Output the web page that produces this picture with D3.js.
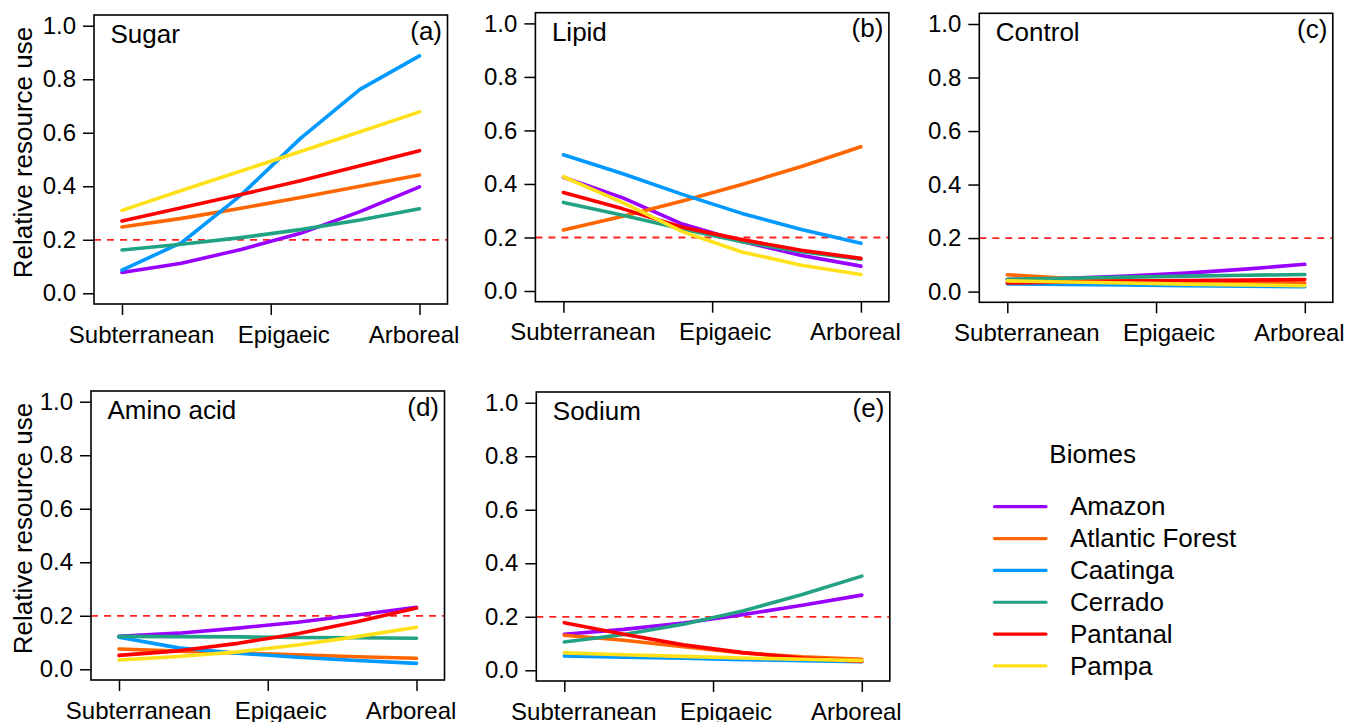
<!DOCTYPE html>
<html><head><meta charset="utf-8">
<script src="https://cdn.jsdelivr.net/npm/d3@7"></script>
<style>body{margin:0;background:#fff}svg{display:block;font-family:"Liberation Sans",Arial,sans-serif}</style>
</head><body><svg id="c" width="1359" height="722"></svg>
<script>
// ---- data ----
const categories = ["Subterranean", "Epigaeic", "Arboreal"];
const categoryPositions = [1, 2, 3];
const xPositions = [1, 1.4, 1.8, 2.2, 2.6, 3];
const yTicks = [0, 0.2, 0.4, 0.6, 0.8, 1.0];
const threshold = 0.2;
const biomes = ["Amazon", "Atlantic Forest", "Caatinga", "Cerrado", "Pantanal", "Pampa"];
const biomeColors = ["#9900FF", "#FF6600", "#0099FF", "#21A383", "#FF0000", "#FFE11A"];

// values per biome (same order as biomes) at xPositions
const sugar = [
  [0.078, 0.112, 0.164, 0.224, 0.305, 0.398],
  [0.248, 0.280, 0.318, 0.358, 0.400, 0.442],
  [0.087, 0.189, 0.367, 0.579, 0.762, 0.887],
  [0.162, 0.183, 0.208, 0.238, 0.274, 0.316],
  [0.270, 0.320, 0.369, 0.421, 0.477, 0.533],
  [0.310, 0.384, 0.457, 0.530, 0.604, 0.678]
];
const lipid = [
  [0.425, 0.348, 0.250, 0.185, 0.133, 0.093],
  [0.228, 0.279, 0.336, 0.398, 0.465, 0.539],
  [0.509, 0.438, 0.361, 0.290, 0.230, 0.178],
  [0.331, 0.283, 0.232, 0.184, 0.147, 0.119],
  [0.368, 0.307, 0.238, 0.192, 0.152, 0.122],
  [0.427, 0.330, 0.222, 0.146, 0.096, 0.062]
];
const control = [
  [0.045, 0.050, 0.058, 0.069, 0.084, 0.102],
  [0.063, 0.050, 0.043, 0.038, 0.035, 0.032],
  [0.029, 0.027, 0.025, 0.022, 0.020, 0.018],
  [0.046, 0.050, 0.054, 0.058, 0.061, 0.064],
  [0.032, 0.036, 0.039, 0.041, 0.043, 0.045],
  [0.040, 0.036, 0.032, 0.028, 0.025, 0.022]
];
const aminoAcid = [
  [0.123, 0.135, 0.154, 0.176, 0.203, 0.232],
  [0.076, 0.068, 0.061, 0.054, 0.047, 0.041],
  [0.120, 0.080, 0.060, 0.045, 0.033, 0.022],
  [0.123, 0.122, 0.121, 0.119, 0.118, 0.116],
  [0.052, 0.069, 0.097, 0.133, 0.178, 0.229],
  [0.035, 0.048, 0.065, 0.091, 0.122, 0.157]
];
const sodium = [
  [0.135, 0.153, 0.177, 0.208, 0.243, 0.281],
  [0.131, 0.112, 0.088, 0.065, 0.050, 0.041],
  [0.054, 0.049, 0.045, 0.040, 0.036, 0.032],
  [0.106, 0.134, 0.172, 0.222, 0.283, 0.352],
  [0.178, 0.135, 0.095, 0.066, 0.046, 0.033],
  [0.065, 0.058, 0.052, 0.046, 0.041, 0.036]
];

// ---- layout ----
const W = 353.5, H = 289;
const panels = [
  {title: "Sugar", letter: "(a)", values: sugar, L: 94, T: 15, ylab: true},
  {title: "Lipid", letter: "(b)", values: lipid, L: 535.4, T: 12.7, ylab: false},
  {title: "Control", letter: "(c)", values: control, L: 979.3, T: 13.3, ylab: false},
  {title: "Amino acid", letter: "(d)", values: aminoAcid, L: 91, T: 391, ylab: true},
  {title: "Sodium", letter: "(e)", values: sodium, L: 536.3, T: 392, ylab: false}
];
const labelShift = [19, 12.5, -6];

const svg = d3.select("#c");
const font = '"Liberation Sans", Arial, sans-serif';

panels.forEach(p => {
  const x = d3.scaleLinear().domain([1, 3]).range([p.L + 28, p.L + W - 28]);
  const y = d3.scaleLinear().domain([-0.04, 1.04]).range([p.T + H, p.T]);
  const g = svg.append("g");

  // threshold line
  g.append("line")
    .attr("x1", p.L).attr("x2", p.L + W)
    .attr("y1", y(threshold)).attr("y2", y(threshold))
    .attr("stroke", "#FF2222").attr("stroke-width", 1.8)
    .attr("stroke-dasharray", "7,6");

  // series
  const line = d3.line().x((d, i) => x(xPositions[i])).y(d => y(d));
  p.values.forEach((vals, bi) => {
    g.append("path").datum(vals)
      .attr("d", line)
      .attr("fill", "none")
      .attr("stroke", biomeColors[bi])
      .attr("stroke-width", 3.6)
      .attr("stroke-linecap", "round")
      .attr("stroke-linejoin", "round");
  });

  // box
  g.append("rect").attr("x", p.L).attr("y", p.T).attr("width", W).attr("height", H)
    .attr("fill", "none").attr("stroke", "#000").attr("stroke-width", 1.6);

  // y axis
  const ya = g.append("g").attr("transform", `translate(${p.L},0)`)
    .call(d3.axisLeft(y).tickValues(yTicks).tickFormat(d3.format(".1f")).tickSize(11).tickPadding(7));
  ya.select(".domain").remove();
  ya.selectAll("line").attr("stroke", "#000").attr("stroke-width", 1.5);
  ya.selectAll("text").attr("font-size", 24).attr("font-family", font).attr("fill", "#000");

  // x axis
  const xa = g.append("g").attr("transform", `translate(0,${p.T + H})`)
    .call(d3.axisBottom(x).tickValues(categoryPositions).tickFormat((d, i) => categories[i]).tickSize(11).tickPadding(10.5));
  xa.select(".domain").remove();
  xa.selectAll("line").attr("stroke", "#000").attr("stroke-width", 1.5);
  xa.selectAll("text").attr("font-size", 24).attr("font-family", font).attr("fill", "#000")
    .attr("dx", (d, i) => labelShift[i]);

  // titles
  g.append("text").attr("x", p.L + 16.5).attr("y", p.T + 28)
    .attr("font-size", 26).attr("font-family", font).text(p.title);
  g.append("text").attr("x", p.L + W - 5.5).attr("y", p.T + 24.5)
    .attr("text-anchor", "end").attr("font-size", 26).attr("font-family", font).text(p.letter);

  if (p.ylab) {
    g.append("text")
      .attr("transform", `translate(32,${p.T + H / 2 - 7}) rotate(-90)`)
      .attr("text-anchor", "middle").attr("font-size", 26).attr("font-family", font)
      .text("Relative resource use");
  }
});

// legend
const lg = svg.append("g");
lg.append("text").attr("x", 1049.3).attr("y", 463.3).attr("font-size", 26).attr("font-family", font).text("Biomes");
biomes.forEach((b, i) => {
  const yy = 506.7 + i * 31.85;
  lg.append("line").attr("x1", 994.5).attr("x2", 1046).attr("y1", yy).attr("y2", yy)
    .attr("stroke", biomeColors[i]).attr("stroke-width", 3.2).attr("stroke-linecap", "round");
  lg.append("text").attr("x", 1070).attr("y", yy + 8.6).attr("font-size", 26).attr("font-family", font).text(b);
});
</script></body></html>
